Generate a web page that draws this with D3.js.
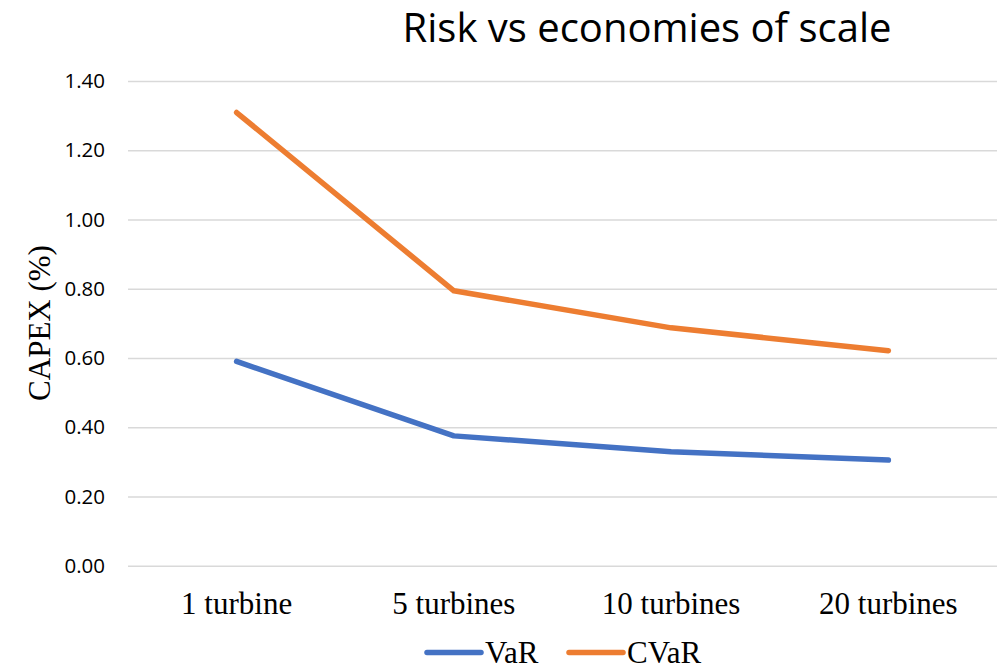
<!DOCTYPE html>
<html>
<head>
<meta charset="utf-8">
<script src="https://cdn.jsdelivr.net/npm/d3@7/dist/d3.min.js"></script>
<style>
  html, body { margin: 0; padding: 0; background: #fff; }
  svg { display: block; }
</style>
</head>
<body>
<svg id="chart" width="1000" height="669"></svg>
<script>
const categories = ["1 turbine", "5 turbines", "10 turbines", "20 turbines"];
const varValues = [0.590, 0.375, 0.329, 0.305];
const cvarValues = [1.309, 0.794, 0.687, 0.621];
const yTicks = [0, 0.2, 0.4, 0.6, 0.8, 1.0, 1.2, 1.4];
const seriesNames = ["VaR", "CVaR"];
const seriesColors = ["#4472C4", "#ED7D31"];
const title = "Risk vs economies of scale";
const yLabel = "CAPEX (%)";

(function () {
const svg = d3.select("#chart");
const plotLeft = 128, plotRight = 997, plotTop = 81, plotBottom = 565.7;

const x = d3.scaleBand().domain(categories).range([plotLeft, plotRight]);
const y = d3.scaleLinear().domain([0, 1.4]).range([plotBottom, plotTop]);

// gridlines
const yAxis = d3.axisLeft(y).tickValues(yTicks).tickFormat(d3.format(".2f"))
  .tickSize(-(plotRight - plotLeft)).tickPadding(23);
const gy = svg.append("g").attr("transform", `translate(${plotLeft},0)`).call(yAxis);
gy.select(".domain").remove();
gy.selectAll(".tick line").attr("stroke", "#d9d9d9").attr("stroke-width", 1.5);
gy.selectAll(".tick text")
  .attr("font-family", "'Open Sans', sans-serif")
  .attr("font-size", 20.5)
  .attr("fill", "#000");

// x axis labels
const xAxis = d3.axisBottom(x).tickSize(0).tickPadding(0);
const gx = svg.append("g").attr("transform", `translate(0,${plotBottom})`).call(xAxis);
gx.select(".domain").remove();
gx.selectAll(".tick text")
  .attr("font-family", "'Liberation Serif', 'Times New Roman', serif")
  .attr("font-size", 31)
  .attr("fill", "#000")
  .attr("dy", null)
  .attr("y", 48.5);

// lines
const seriesData = [varValues, cvarValues];
const line = d3.line()
  .x((d, i) => x(categories[i]) + x.bandwidth() / 2)
  .y(d => y(d));
seriesData.forEach((vals, k) => {
  svg.append("path")
    .datum(vals)
    .attr("d", line)
    .attr("fill", "none")
    .attr("stroke", seriesColors[k])
    .attr("stroke-width", 5.5)
    .attr("stroke-linecap", "round")
    .attr("stroke-linejoin", "round");
});

// title
svg.append("text")
  .attr("x", 647).attr("y", 42)
  .attr("text-anchor", "middle")
  .attr("font-family", "'Open Sans', sans-serif")
  .attr("font-size", 40)
  .attr("fill", "#000")
  .text(title);

// y label
svg.append("text")
  .attr("transform", "translate(50,323) rotate(-90)")
  .attr("text-anchor", "middle")
  .attr("font-family", "'Liberation Serif', 'Times New Roman', serif")
  .attr("font-size", 31)
  .attr("fill", "#000")
  .text(yLabel);

// legend
const legendItems = [
  { name: seriesNames[0], color: seriesColors[0], x: 427 },
  { name: seriesNames[1], color: seriesColors[1], x: 569 }
];
legendItems.forEach(it => {
  const g = svg.append("g");
  g.append("line")
    .attr("x1", it.x).attr("x2", it.x + 54)
    .attr("y1", 652.5).attr("y2", 652.5)
    .attr("stroke", it.color).attr("stroke-width", 5.5)
    .attr("stroke-linecap", "round");
  g.append("text")
    .attr("x", it.x + 58).attr("y", 663)
    .attr("font-family", "'Liberation Serif', 'Times New Roman', serif")
    .attr("font-size", 31)
    .attr("fill", "#000")
    .text(it.name);
});
})();
</script>
</body>
</html>
